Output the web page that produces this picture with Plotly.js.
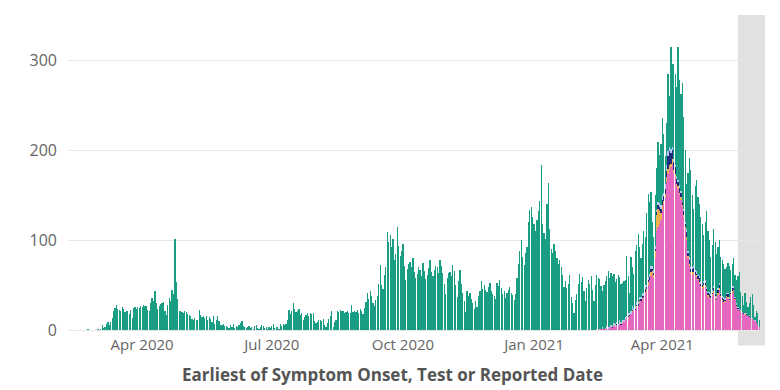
<!DOCTYPE html>
<html>
<head>
<meta charset="utf-8">
<script src="https://cdn.plot.ly/plotly-3.0.1.min.js"></script>
<style>html,body{margin:0;padding:0;background:#fff;}#chart{width:780px;height:390px;}</style>
</head>
<body>
<div id="chart"></div>
<script>
// Daily case counts, first day 2020-02-20
const totalStart = '2020-02-20';
const totalCases = [
0,0,0,2,0,0,0,0,0,0,
2,0,1,6,3,4,7,9,6,9,
14,22,25,28,24,23,22,26,24,20,
21,21,18,23,14,25,26,24,26,25,
27,26,28,27,27,23,22,30,36,33,
44,30,24,27,29,30,32,22,17,28,
36,33,45,40,101,54,35,21,22,20,
19,21,20,18,17,16,13,12,14,12,
11,23,17,15,16,14,16,12,15,13,
9,16,7,12,16,10,6,6,7,5,
5,4,3,6,4,7,3,5,4,6,
8,10,5,4,3,4,5,3,4,2,
5,6,3,2,4,6,5,3,4,2,
4,3,5,7,3,4,4,2,7,5,
7,6,7,12,23,18,22,30,24,20,
21,24,17,19,11,15,17,19,16,19,
18,19,10,8,9,11,12,10,13,6,
4,8,13,16,22,4,9,12,22,20,
23,21,21,19,20,22,19,19,28,20,
22,20,23,19,24,21,18,25,31,41,
35,44,38,30,27,34,38,52,73,50,
46,62,70,109,98,106,92,101,78,85,
115,94,83,88,96,72,56,68,74,76,
70,80,65,58,63,70,67,60,75,66,
57,62,69,78,65,60,67,72,70,64,
78,71,64,52,40,58,64,65,60,73,
66,50,37,55,67,52,41,33,20,44,
38,41,35,30,24,33,26,38,44,55,
46,50,45,43,48,53,44,40,38,35,
53,49,56,47,40,44,36,41,45,48,
42,39,34,40,58,74,88,100,82,73,
86,93,120,134,137,126,118,110,123,132,
144,184,118,108,101,140,164,112,90,86,
96,88,80,74,78,70,62,48,55,47,
52,62,37,30,19,34,40,52,63,54,
59,44,33,47,56,52,60,45,33,50,
62,58,57,49,44,50,55,60,66,58,
64,60,63,54,57,62,59,51,53,55,
56,83,60,41,81,70,63,88,95,107,
92,80,96,110,104,130,151,142,154,120,
104,150,180,209,195,207,236,218,194,230,
285,260,314,296,296,285,270,314,278,262,
274,237,200,163,175,191,178,150,135,160,
167,148,140,126,118,106,120,133,110,100,
81,95,113,98,85,92,100,81,78,74,
68,70,75,72,67,74,80,62,56,60,
65,43,38,28,41,32,26,30,37,40,
28,15,21,19,12
];

// Variant series, first day 2021-02-14
const variantStart = '2021-02-14';
const pinkCases = [
0,1,0,1,2,1,2,3,2,3,
4,3,5,4,6,5,7,6,8,9,
11,14,13,16,18,20,22,23,25,27,
30,33,34,37,40,44,50,56,60,63,
58,80,110,115,118,122,133,140,148,165,
174,178,181,185,175,170,160,157,150,145,
137,126,112,100,80,72,63,62,63,61,
59,56,52,48,46,47,48,43,37,36,
35,38,41,36,33,39,45,37,33,30,
32,37,35,33,39,42,44,34,26,24,
22,20,19,18,17,17,16,15,14,13,
11,10,9,6,4
];
const orangeCases = [
0,0,0,0,0,0,0,0,0,0,
0,0,1,0,0,0,1,0,1,0,
0,0,2,0,0,1,0,0,2,0,
3,0,2,0,3,2,4,0,5,3,
4,8,18,20,15,8,6,4,3,5,
5,6,4,5,3,4,2,3,2,3,
2,2,3,4,3,2,2,3,2,1,
2,1,2,1,2,3,2,1,2,1,
1,2,3,2,1,2,2,1,1,2,
1,1,2,1,1,2,1,1,1,0,
0,1,0,0,1,0,0,0,0,0,
0,0,0,0,0
];
const navyCases = [
0,0,0,0,0,0,0,0,0,0,
0,1,0,0,1,0,0,1,0,0,
1,0,1,1,0,2,0,1,1,2,
1,2,2,1,3,2,2,3,3,2,
2,2,3,4,4,5,6,5,6,7,
14,15,12,10,9,7,6,5,6,4,
3,4,3,5,3,4,3,3,4,3,
2,3,4,3,2,3,3,2,2,3,
2,2,3,2,1,4,3,2,2,3,
1,2,3,1,2,3,2,1,1,1,
1,1,0,1,0,1,0,1,0,0,
0,0,0,0,0
];
const lightBlueCases = [
1,0,1,1,2,1,1,2,2,1,
2,1,2,3,2,2,3,2,3,2,
3,2,3,2,3,4,2,3,3,2,
3,2,3,3,4,2,3,4,3,3,
3,4,3,3,4,4,5,4,5,6,
6,5,4,4,3,3,3,2,3,3,
2,3,2,3,2,3,2,2,3,2,
3,2,2,3,2,2,3,2,2,3,
2,3,2,2,3,2,3,2,2,2,
2,1,2,2,1,2,2,1,2,1,
1,1,1,0,1,1,0,1,0,1,
0,1,0,0,0
];

const tickVals = ['2020-04-01','2020-07-01','2020-10-01','2021-01-01','2021-04-01'];
const tickText = ['Apr 2020','Jul 2020','Oct 2020','Jan 2021','Apr 2021'];
const shadeStart = '2021-05-24';
const xTitle = 'Earliest of Symptom Onset, Test or Reported Date';

function dayList(start, n) {
  const out = [];
  const t0 = Date.parse(start + 'T00:00:00Z');
  for (let i = 0; i < n; i++) {
    out.push(new Date(t0 + i * 86400000).toISOString().slice(0, 10));
  }
  return out;
}

const allDates = dayList(totalStart, totalCases.length);
const varDates = dayList(variantStart, pinkCases.length);
const offset = allDates.indexOf(variantStart);
const tealCases = totalCases.map((v, i) => {
  const j = i - offset;
  if (j < 0 || j >= pinkCases.length) return v;
  return v - pinkCases[j] - orangeCases[j] - navyCases[j] - lightBlueCases[j];
});

function barTrace(x, y, color) {
  return {type: 'bar', x: x, y: y, marker: {color: color, line: {width: 0}}, hoverinfo: 'skip', showlegend: false};
}

const traces = [
  barTrace(varDates, pinkCases, '#e468bf'),
  barTrace(varDates, orangeCases, '#f0b04c'),
  barTrace(varDates, navyCases, '#1f2c7c'),
  barTrace(varDates, lightBlueCases, '#b7c8f3'),
  barTrace(allDates, tealCases, '#1a9e83')
];

const layout = {
  width: 780, height: 390,
  margin: {l: 68, r: 15, t: 15, b: 56},
  paper_bgcolor: '#ffffff', plot_bgcolor: '#ffffff',
  barmode: 'stack', bargap: 0.15,
  font: {family: 'Open Sans, sans-serif', color: '#666'},
  xaxis: {
    type: 'date', range: ['2020-02-09', '2021-06-12'],
    tickvals: tickVals, ticktext: tickText,
    showgrid: false, zeroline: false, showline: false, ticks: '',
    tickfont: {size: 15, color: '#666'}
  },
  yaxis: {
    range: [-4, 350], tickvals: [0, 100, 200, 300],
    showgrid: true, gridcolor: '#e6e6e6', gridwidth: 1,
    zeroline: false, showline: false, ticks: '',
    ticklabelstandoff: 10,
    tickfont: {size: 16, color: '#666'}
  },
  shapes: [{
    type: 'rect', xref: 'x', yref: 'paper',
    x0: shadeStart, x1: '2021-06-12', y0: -0.036, y1: 1,
    fillcolor: '#e1e1e1', line: {width: 0}, layer: 'below'
  }],
  annotations: [{
    text: '<b>' + xTitle + '</b>', xref: 'paper', yref: 'paper',
    x: 0.466, y: -0.127, xanchor: 'center', yanchor: 'middle',
    showarrow: false, font: {size: 17, color: '#555'}
  }]
};

Plotly.newPlot('chart', traces, layout, {staticPlot: true, displayModeBar: false});
</script>
</body>
</html>
